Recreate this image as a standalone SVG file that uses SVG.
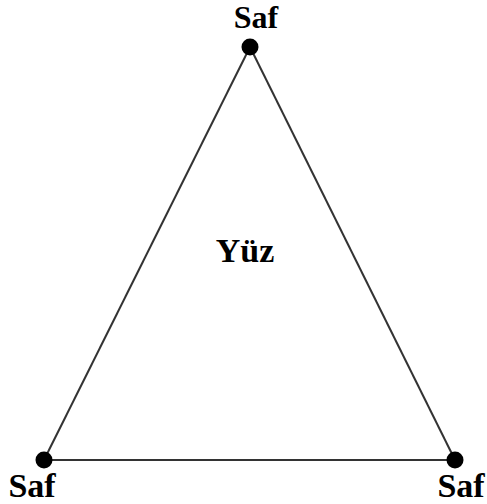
<svg xmlns="http://www.w3.org/2000/svg" width="487" height="504" viewBox="0 0 487 504">
<style>
.lbl{font-family:"Liberation Serif","Times New Roman",serif;font-weight:bold;font-size:34px;fill:#000;text-anchor:middle}
.edge{stroke:#333;stroke-width:2;fill:none}
.dot{fill:#000}
</style>
<rect width="487" height="504" fill="#fff"/>
<g id="connectors">
<line class="edge" x1="250" y1="47" x2="44" y2="460"/>
<line class="edge" x1="250" y1="47" x2="455" y2="460"/>
<line class="edge" x1="44" y1="460" x2="455" y2="460"/>
</g>
<g id="node-top"><circle class="dot" cx="250" cy="47" r="8.5"/><text class="lbl" x="256" y="28" style="font-size:32px">Saf</text></g>
<g id="node-left"><circle class="dot" cx="44" cy="460" r="8.5"/><text class="lbl" x="32" y="497">Saf</text></g>
<g id="node-right"><circle class="dot" cx="455" cy="460" r="8.5"/><text class="lbl" x="461" y="497">Saf</text></g>
<g id="face"><text class="lbl" x="245" y="262">Yüz</text></g>
</svg>
